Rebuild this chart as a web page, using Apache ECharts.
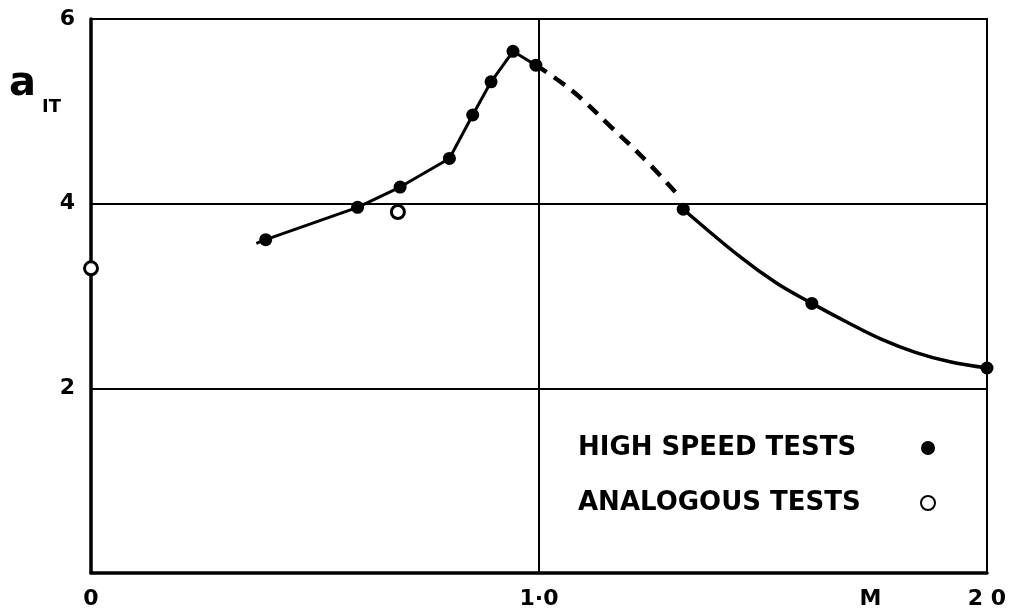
<!DOCTYPE html>
<html>
<head>
<meta charset="utf-8">
<script src="https://cdn.jsdelivr.net/npm/echarts@6/dist/echarts.min.js"></script>
<style>
  html, body { margin: 0; padding: 0; background: #fff; }
  #chart { width: 1011px; height: 614px; }
</style>
</head>
<body>
<div id="chart"></div>
<script>
// Lift coefficient a_IT against Mach number M
const highSpeedM = [0.39, 0.595, 0.69, 0.80, 0.852, 0.893, 0.942, 0.993, 1.322, 1.609, 2.0];
const highSpeedA = [3.61, 3.96, 4.18, 4.49, 4.96, 5.32, 5.65, 5.50, 3.94, 2.92, 2.22];

const analogousM = [0.0, 0.685];
const analogousA = [3.30, 3.91];

// faired curve: solid subsonic part starts slightly before the first point
const curveStart = [0.369, 3.57];
// dashed (interpolated) transonic part
const dashedM = [0.993, 1.072, 1.161, 1.244, 1.311];
const dashedA = [5.50, 5.23, 4.83, 4.44, 4.09];
// solid supersonic fairing
const superM = [1.322, 1.45, 1.53, 1.609, 1.69, 1.765, 1.84, 1.915, 2.0];
const superA = [3.94, 3.42, 3.14, 2.92, 2.71, 2.53, 2.39, 2.29, 2.22];

const xTickValues = [0, 1, 1.74, 2];
const xTickLabels = ['0', '1·0', 'M', '2 0'];
const yTickValues = [2, 4, 6];
const yTickLabels = ['2', '4', '6'];

const seriesNames = ['HIGH SPEED TESTS', 'ANALOGOUS TESTS'];

const zip = (xs, ys) => xs.map((x, i) => [x, ys[i]]);

const ink = '#000';
const font = 'DejaVu Sans';

const subsonicPath = [curveStart].concat(zip(highSpeedM.slice(0, 8), highSpeedA.slice(0, 8)));

const pick = (values, labels) => v => {
  const i = values.findIndex(t => Math.abs(t - v) < 1e-6);
  return i >= 0 ? labels[i] : '';
};

const chart = echarts.init(document.getElementById('chart'), null, { renderer: 'canvas' });

chart.setOption({
  backgroundColor: '#fff',
  animation: false,
  grid: {
    left: 91, right: 24, top: 19, bottom: 41,
    show: true, borderColor: ink, borderWidth: 2, backgroundColor: 'transparent'
  },
  xAxis: {
    type: 'value', min: 0, max: 2, interval: 1,
    axisLine: { show: true, onZero: false, lineStyle: { color: ink, width: 3.5 } },
    axisTick: { show: false },
    splitLine: { show: true, lineStyle: { color: ink, width: 2 } },
    axisLabel: {
      customValues: xTickValues,
      formatter: pick(xTickValues, xTickLabels),
      color: ink, fontFamily: font, fontWeight: 'bold', fontSize: 22, margin: 15
    }
  },
  yAxis: {
    type: 'value', min: 0, max: 6, interval: 2,
    axisLine: { show: true, onZero: false, lineStyle: { color: ink, width: 3.5 } },
    axisTick: { show: false },
    splitLine: { show: true, lineStyle: { color: ink, width: 2 } },
    axisLabel: {
      customValues: yTickValues,
      formatter: pick(yTickValues, yTickLabels),
      color: ink, fontFamily: font, fontWeight: 'bold', fontSize: 22, margin: 16
    }
  },
  legend: {
    orient: 'vertical',
    left: 573, top: 430,
    align: 'right',
    itemGap: 29,
    itemWidth: 14, itemHeight: 14,
    data: seriesNames,
    formatter: name => '{t|' + name + '}',
    textStyle: {
      color: ink, fontFamily: font, fontWeight: 'bold', fontSize: 26,
      rich: { t: { width: 338, align: 'left', color: ink, fontFamily: font, fontWeight: 'bold', fontSize: 26 } }
    }
  },
  graphic: [
    { type: 'text', left: 9, top: 65, style: { text: 'a', fontFamily: font, fontWeight: 'bold', fontSize: 40, fill: ink } },
    { type: 'text', left: 42, top: 98, style: { text: 'IT', fontFamily: font, fontWeight: 'bold', fontSize: 18, fill: ink } }
  ],
  series: [
    {
      name: 'subsonic fairing', type: 'line', data: subsonicPath,
      showSymbol: false, symbol: 'none', silent: true,
      lineStyle: { color: ink, width: 3 }, z: 2
    },
    {
      name: 'transonic fairing', type: 'line', data: zip(dashedM, dashedA),
      showSymbol: false, symbol: 'none', silent: true, smooth: 0.4,
      lineStyle: { color: ink, width: 4.5, type: [13, 9] }, z: 2
    },
    {
      name: 'supersonic fairing', type: 'line', data: zip(superM, superA),
      showSymbol: false, symbol: 'none', silent: true, smooth: 0.4,
      lineStyle: { color: ink, width: 3.5 }, z: 2
    },
    {
      name: seriesNames[0], type: 'scatter', data: zip(highSpeedM, highSpeedA),
      symbol: 'circle', symbolSize: 13,
      itemStyle: { color: ink, opacity: 1 }, z: 4
    },
    {
      name: seriesNames[1], type: 'scatter', data: zip(analogousM, analogousA),
      symbol: 'circle', symbolSize: 13,
      itemStyle: { color: '#fff', borderColor: ink, borderWidth: 3, opacity: 1 }, z: 4
    }
  ]
});
</script>
</body>
</html>
